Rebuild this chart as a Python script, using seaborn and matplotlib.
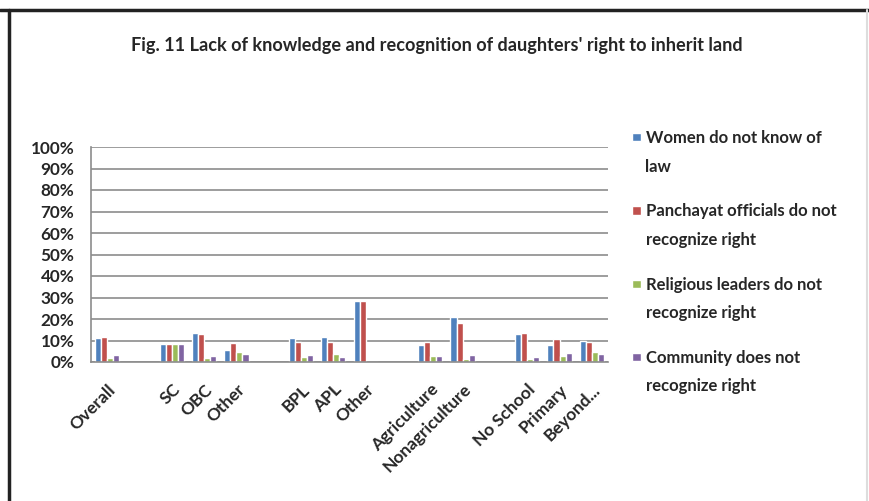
import matplotlib
matplotlib.use("Agg")
import matplotlib.pyplot as plt
import numpy as np
import pandas as pd
import seaborn as sns
from matplotlib.legend_handler import HandlerPatch
from matplotlib.lines import Line2D
from matplotlib.patches import Rectangle
from matplotlib.ticker import PercentFormatter

# category slots (blank slots separate the groups, as in the original chart)
CATEGORIES = ["Overall", "gap1", "SC", "OBC", "Other", "gap2", "BPL", "APL", "Other2",
              "gap3", "Agriculture", "Nonagriculture", "gap4", "No School", "Primary", "Beyond..."]
TICK_LABELS = ["Overall", "", "SC", "OBC", "Other", "", "BPL", "APL", "Other",
               "", "Agriculture", "Nonagriculture", "", "No School", "Primary", "Beyond..."]

SERIES = ["Women do not know of\nlaw",
          "Panchayat officials do not\nrecognize right",
          "Religious leaders do not\nrecognize right",
          "Community does not\nrecognize right"]

# percent values (NaN = empty slot)
women = [11.2, np.nan, 8.2, 13.5, 5.6, np.nan, 11.0, 11.5, 28.5, np.nan, 7.9, 20.9, np.nan, 12.9, 7.8, 9.9]
panchayat = [11.5, np.nan, 8.2, 12.9, 8.7, np.nan, 9.1, 9.1, 28.5, np.nan, 9.3, 18.1, np.nan, 13.3, 10.5, 9.3]
religious = [1.9, np.nan, 8.2, 1.7, 4.7, np.nan, 2.5, 3.6, 0.0, np.nan, 2.9, 1.2, np.nan, 1.2, 2.6, 4.5]
community = [3.1, np.nan, 8.2, 2.6, 3.9, np.nan, 3.4, 2.2, 0.0, np.nan, 2.9, 3.4, np.nan, 2.3, 4.0, 3.9]

COLORS = ["#4F81BD", "#C0504D", "#9BBB59", "#8064A2"]

LEG_FS = 12
LEG_LS = 1.97

rows = []
for name, vals in zip(SERIES, [women, panchayat, religious, community]):
    for cat, v in zip(CATEGORIES, vals):
        rows.append({"category": cat, "series": name, "value": v})
df = pd.DataFrame(rows)

sns.set_style("white")
plt.rcParams["font.family"] = ["Lato", "DejaVu Sans"]
plt.rcParams["font.weight"] = "bold"

fig = plt.figure(figsize=(8.69, 5.01), dpi=100)
ax = fig.add_axes([91 / 869, 1 - 362 / 501, 517 / 869, 215 / 501])

sns.barplot(data=df, x="category", y="value", hue="series", order=CATEGORIES,
            hue_order=SERIES, palette=COLORS, width=0.75, saturation=1,
            ax=ax, legend=True)

ax.set_ylim(0, 100)
ax.set_xlim(-0.5, len(CATEGORIES) - 0.5)
ax.set_yticks(np.arange(0, 101, 10))
ax.yaxis.set_major_formatter(PercentFormatter(decimals=0))
ax.yaxis.grid(True, color="#8c8c8c", linewidth=1.2)
ax.set_axisbelow(True)
ax.set_xlabel("")
ax.set_ylabel("")
for side in ("top", "right"):
    ax.spines[side].set_visible(False)
for side in ("left", "bottom"):
    ax.spines[side].set_color("#8c8c8c")
    ax.spines[side].set_linewidth(1.2)
ax.tick_params(axis="y", labelsize=12.3, length=0, pad=12)
ax.set_xticks(range(len(CATEGORIES)))
ax.set_xticklabels(TICK_LABELS, rotation=45, ha="right", rotation_mode="anchor",
                   fontsize=12.5, fontweight="bold")
ax.tick_params(axis="x", length=0, pad=14)


def first_line_square(legend, orig_handle, xdescent, ydescent, width, height, fontsize):
    # small square level with the first line of a two-line label
    sq = 0.5 * fontsize
    y0 = LEG_LS * 0.82 * fontsize - 0.57 * fontsize
    return Rectangle((-xdescent + width - sq, y0), sq, sq)


handles, labels = ax.get_legend_handles_labels()
ax.get_legend().remove()
leg = fig.legend(handles, labels, loc="upper left", bbox_to_anchor=(613 / 869, 1 - 115 / 501),
                 frameon=False, fontsize=LEG_FS, handlelength=0.75, handleheight=0.7,
                 handletextpad=0.3, labelspacing=1.72,
                 handler_map={h: HandlerPatch(patch_func=first_line_square) for h in handles})
for t in leg.get_texts():
    t.set_linespacing(LEG_LS)
    t.set_fontweight("bold")

fig.suptitle("Fig. 11 Lack of knowledge and recognition of daughters' right to inherit land",
             x=437 / 869, y=1 - 45 / 501, va="center", fontsize=13.1, fontweight="bold")

# frame around the chart area, as in the screenshot
fig.add_artist(Line2D([0, 1], [1 - 10 / 501] * 2, transform=fig.transFigure, color="#222222", linewidth=2.5))
fig.add_artist(Line2D([9 / 869] * 2, [0, 1 - 10 / 501], transform=fig.transFigure, color="#222222", linewidth=2.5))
fig.add_artist(Line2D([867 / 869] * 2, [0, 1 - 10 / 501], transform=fig.transFigure, color="#dddddd", linewidth=1.5))

fig.savefig("out.png", dpi=100)
